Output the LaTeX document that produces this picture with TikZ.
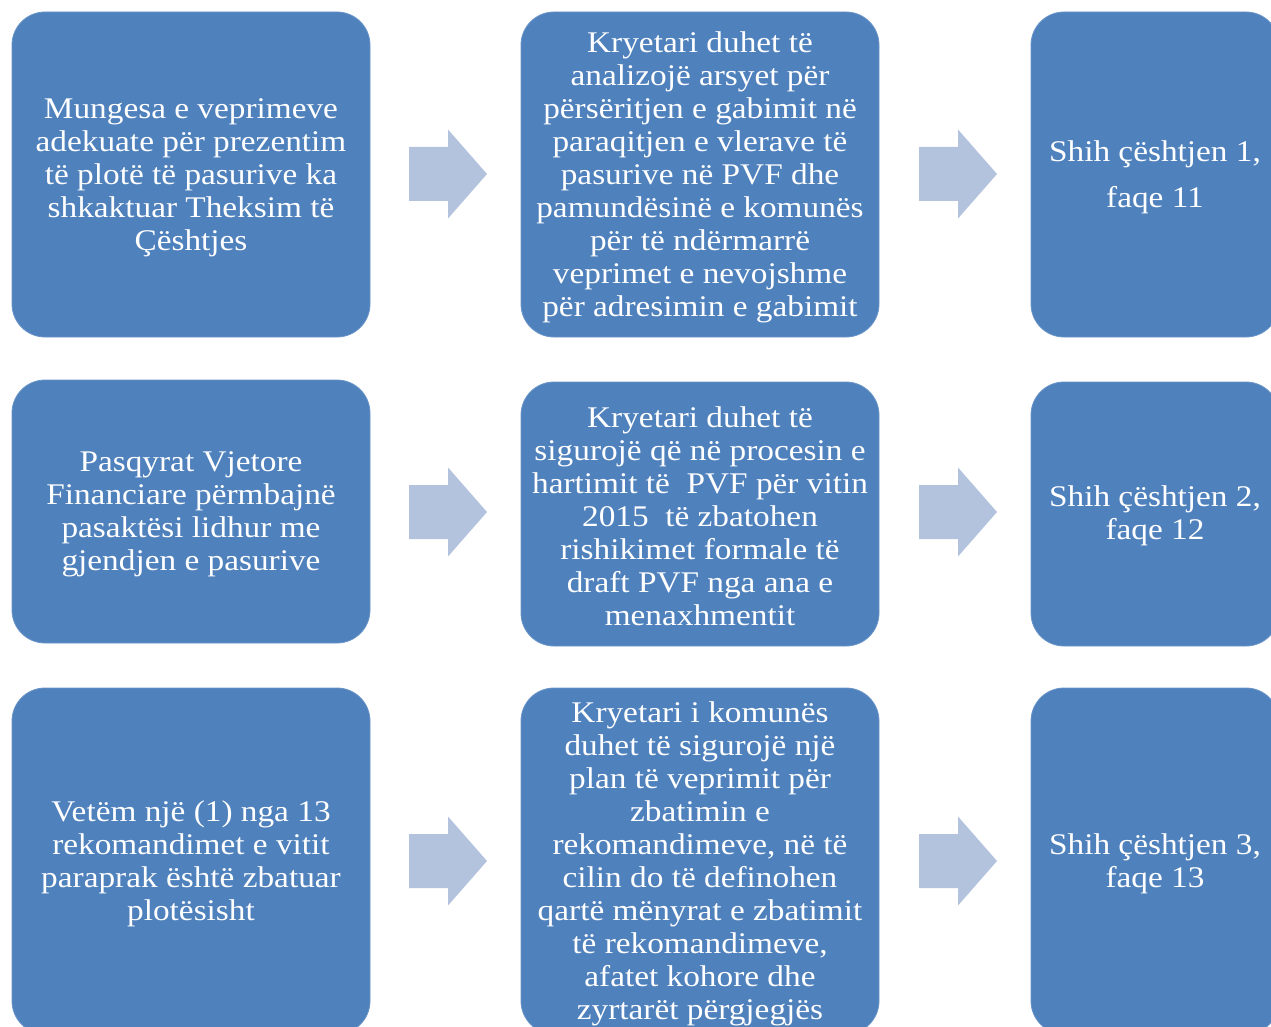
\documentclass[tikz,border=0pt]{standalone}
\usepackage{fontspec}
\setmainfont[FakeStretch=1.11]{Liberation Serif}
\definecolor{boxblue}{HTML}{4F81BD}
\definecolor{boxedge}{HTML}{6A94C8}
\definecolor{arrowblue}{HTML}{B3C3DE}
\tikzset{
  card/.style={draw=boxedge, line width=0.8pt, fill=boxblue, rounded corners=33pt, inner sep=0pt},
  cardtext/.style={text=white, align=center, inner sep=0pt, font=\fontsize{30}{33}\selectfont},
  blockarrow/.pic={\fill[arrowblue] (-39,-27) -- (0,-27) -- (0,-44.5) -- (39,0) -- (0,44.5) -- (0,27) -- (-39,27) -- cycle;}
}
\begin{document}
\begin{tikzpicture}[x=1pt,y=-1pt]
\useasboundingbox (0,0) rectangle (1271,1027);
% Row 1
\node[card, minimum width=358pt, minimum height=325pt] (r1c1) at (191,174.5) {};
\node[cardtext] (t1c1) at ([yshift=-3pt]r1c1.center)
  {Mungesa e veprimeve\\adekuate për prezentim\\të plotë të pasurive ka\\shkaktuar Theksim të\\Çështjes};
\node[card, minimum width=358pt, minimum height=325pt] (r1c2) at (700,174.5) {};
\node[cardtext] (t1c2) at ([yshift=-3pt]r1c2.center)
  {Kryetari duhet të\\analizojë arsyet për\\përsëritjen e gabimit në\\paraqitjen e vlerave të\\pasurive në PVF dhe\\pamundësinë e komunës\\për të ndërmarrë\\veprimet e nevojshme\\për adresimin e gabimit};
\node[card, minimum width=248pt, minimum height=325pt] (r1c3) at (1155,174.5) {};
\node[cardtext] (t1c3) at ([yshift=-3pt]r1c3.center)
  {Shih çështjen 1,\\[13pt]faqe 11};
% Row 2
\node[card, minimum width=358pt, minimum height=263pt] (r2c1) at (191,511.5) {};
\node[cardtext] (t2c1) at ([yshift=-3pt]r2c1.center)
  {Pasqyrat Vjetore\\Financiare përmbajnë\\pasaktësi lidhur me\\gjendjen e pasurive};
\node[card, minimum width=358pt, minimum height=264pt] (r2c2) at (700,514) {};
\node[cardtext] (t2c2) at ([yshift=-2pt]r2c2.center)
  {Kryetari duhet të\\sigurojë që në procesin e\\hartimit të \ PVF për vitin\\2015 \ të zbatohen\\rishikimet formale të\\draft PVF nga ana e\\menaxhmentit};
\node[card, minimum width=248pt, minimum height=264pt] (r2c3) at (1155,514) {};
\node[cardtext] (t2c3) at ([yshift=-2pt]r2c3.center)
  {Shih çështjen 2,\\faqe 12};
% Row 3
\node[card, minimum width=358pt, minimum height=346pt] (r3c1) at (191,861) {};
\node[cardtext] (t3c1) at ([yshift=-3pt]r3c1.center)
  {Vetëm një (1) nga 13\\rekomandimet e vitit\\paraprak është zbatuar\\plotësisht};
\node[card, minimum width=358pt, minimum height=346pt] (r3c2) at (700,861) {};
\node[cardtext] (t3c2) at ([yshift=-2.5pt]r3c2.center)
  {Kryetari i komunës\\duhet të sigurojë një\\plan të veprimit për\\zbatimin e\\rekomandimeve, në të\\cilin do të definohen\\qartë mënyrat e zbatimit\\të rekomandimeve,\\afatet kohore dhe\\zyrtarët përgjegjës};
\node[card, minimum width=248pt, minimum height=346pt] (r3c3) at (1155,861) {};
\node[cardtext] (t3c3) at ([yshift=-3pt]r3c3.center)
  {Shih çështjen 3,\\faqe 13};
% Arrows
\pic at (448,174) {blockarrow};
\pic at (958,174) {blockarrow};
\pic at (448,512) {blockarrow};
\pic at (958,512) {blockarrow};
\pic at (448,861) {blockarrow};
\pic at (958,861) {blockarrow};
\end{tikzpicture}
\end{document}
